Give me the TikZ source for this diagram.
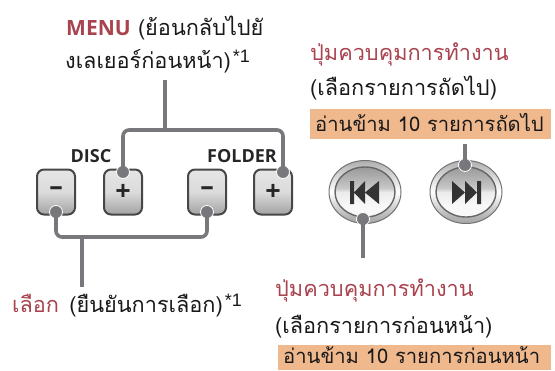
\documentclass[tikz,border=0pt]{standalone}
\usepackage{fontspec}
\usetikzlibrary{shapes.geometric}
\newfontfamily\thaifont[Script=Thai]{Loma}
\newfontfamily\labfont{Open Sans}
\newfontfamily\supfont{Liberation Sans}
\definecolor{redt}{HTML}{A8434F}
\definecolor{conn}{HTML}{77777C}
\definecolor{peach}{HTML}{F0B88D}
\pgfdeclareverticalshading{facesh}{100bp}{color(0bp)=(white); color(38bp)=(black!3); color(50bp)=(black!8); color(54bp)=(black!22); color(75bp)=(black!40); color(100bp)=(black!55)}
\pgfdeclareverticalshading{btnsh}{100bp}{color(0bp)=(black!50); color(30bp)=(black!32); color(50bp)=(black!14); color(75bp)=(black!10); color(90bp)=(black!18); color(100bp)=(black!35)}
\pgfdeclareverticalshading{ringsh}{100bp}{color(0bp)=(black!55); color(30bp)=(black!30); color(50bp)=(white); color(70bp)=(black!25); color(100bp)=(black!65)}
\newcommand{\sups}{\hspace{2pt}\raisebox{6pt}{\supfont\fontsize{18}{18}\selectfont *1}}
\tikzset{
 x=1pt,y=-1pt,
 thtext/.style={inner sep=0pt,anchor=base west,font=\thaifont\fontsize{21.7}{22}\selectfont,text=black!90},
 bandtext/.style={thtext,font=\thaifont\fontsize{20.2}{21}\selectfont},
 band/.style={fill=peach,draw=none},
 sqbtn/.style={draw=black!72,line width=2pt,rounded corners=7pt,shading=btnsh,minimum width=38pt,minimum height=45pt,inner sep=0pt,font=\labfont\bfseries\fontsize{27}{27}\selectfont,text=black!85},
 rndbtn/.style={ellipse,draw=black!55,line width=1pt,shading=ringsh,minimum width=72pt,minimum height=63pt,inner sep=0pt},
 rndface/.style={ellipse,draw=black!60,line width=1.4pt,shading=facesh,minimum width=60pt,minimum height=50pt,inner sep=0pt},
 wire/.style={draw=conn,line width=3.6pt,rounded corners=6pt},
 dotn/.style={circle,fill=conn,draw=white,line width=0.8pt,minimum size=13pt,inner sep=0pt},
 captext/.style={inner sep=0pt,font=\labfont\bfseries\fontsize{18}{18}\selectfont,text=black!85},
}
\begin{document}
\begin{tikzpicture}
\useasboundingbox (0,0) rectangle (555,370);
% peach bands
\fill[band] (310,109) rectangle (551,139);
\fill[band] (278,345) rectangle (551,370);
% buttons
\node[sqbtn] (m1) at (56,192) {\raisebox{1pt}{–}};
\node[sqbtn] (p1) at (123,192) {+};
\node[sqbtn] (m2) at (207,192) {\raisebox{1pt}{–}};
\node[sqbtn] (p2) at (273,192) {+};
\node[rndbtn] (prev) at (365,192) {};
\node[rndface] at (prev.center) {};
\node[rndbtn] (next) at (466,192) {};
\node[rndface] at (next.center) {};
\fill[black!80] (350,181) rectangle (354,204) (379,181) -- (379,204) -- (365,192.5) -- cycle (365,181) -- (365,204) -- (354,192.5) -- cycle;
\fill[black!80] (481,181) rectangle (477,204) (452,181) -- (452,204) -- (465,192.5) -- cycle (465,181) -- (465,204) -- (477,192.5) -- cycle;
% captions
\node[captext] (disc) at (91,156) {DISC};
\node[captext] (folder) at (242,156) {FOLDER};
% text
\node[thtext] (menu) at (66,35) {\textcolor{redt}{\labfont\bfseries\fontsize{21}{21}\selectfont MENU} (ย้อนกลับไปยั};
\node[thtext] (menub) at (65,68) {งเลเยอร์ก่อนหน้า)\sups};
\node[thtext,text=redt] (nt) at (310,60) {ปุ่มควบคุมการทำงาน};
\node[thtext] (nm) at (310,95) {(เลือกรายการถัดไป)};
\node[bandtext] (nb) at (315,131) {อ่านข้าม 10 รายการถัดไป};
\node[thtext] (sel) at (12,312) {\textcolor{redt}{เลือก}\hspace{3pt} (ยืนยันการเลือก)\sups};
\node[thtext,text=redt] (pt) at (275,296) {ปุ่มควบคุมการทำงาน};
\node[thtext] (pm) at (275,333) {(เลือกรายการก่อนหน้า)};
\node[bandtext] (pb) at (283,363) {อ่านข้าม 10 รายการก่อนหน้า};
% connector points
\coordinate (menuend) at (165,80);
\coordinate (menujoin) at (165,130);
\coordinate (selend) at (82,287);
\coordinate (seljoin) at (82,237);
\coordinate (prevend) at (363,258);
\coordinate (nextend) at (465,144);
% dots
\node[dotn] (dp1) at (123,172) {};
\node[dotn] (dp2) at (283,172) {};
\node[dotn] (dm1) at (56,212) {};
\node[dotn] (dm2) at (207,212) {};
\node[dotn] (dprev) at (363,219) {};
\node[dotn] (dnext) at (465,165) {};
% wires
\draw[wire] (dp1.center) |- (menujoin) -| (dp2.center);
\draw[wire] (menuend) -- (menujoin);
\draw[wire] (dm1.center) |- (seljoin) -| (dm2.center);
\draw[wire] (selend) -- (seljoin);
\draw[wire] (dprev.center) -- (prevend);
\draw[wire] (dnext.center) -- (nextend);
\end{tikzpicture}
\end{document}
